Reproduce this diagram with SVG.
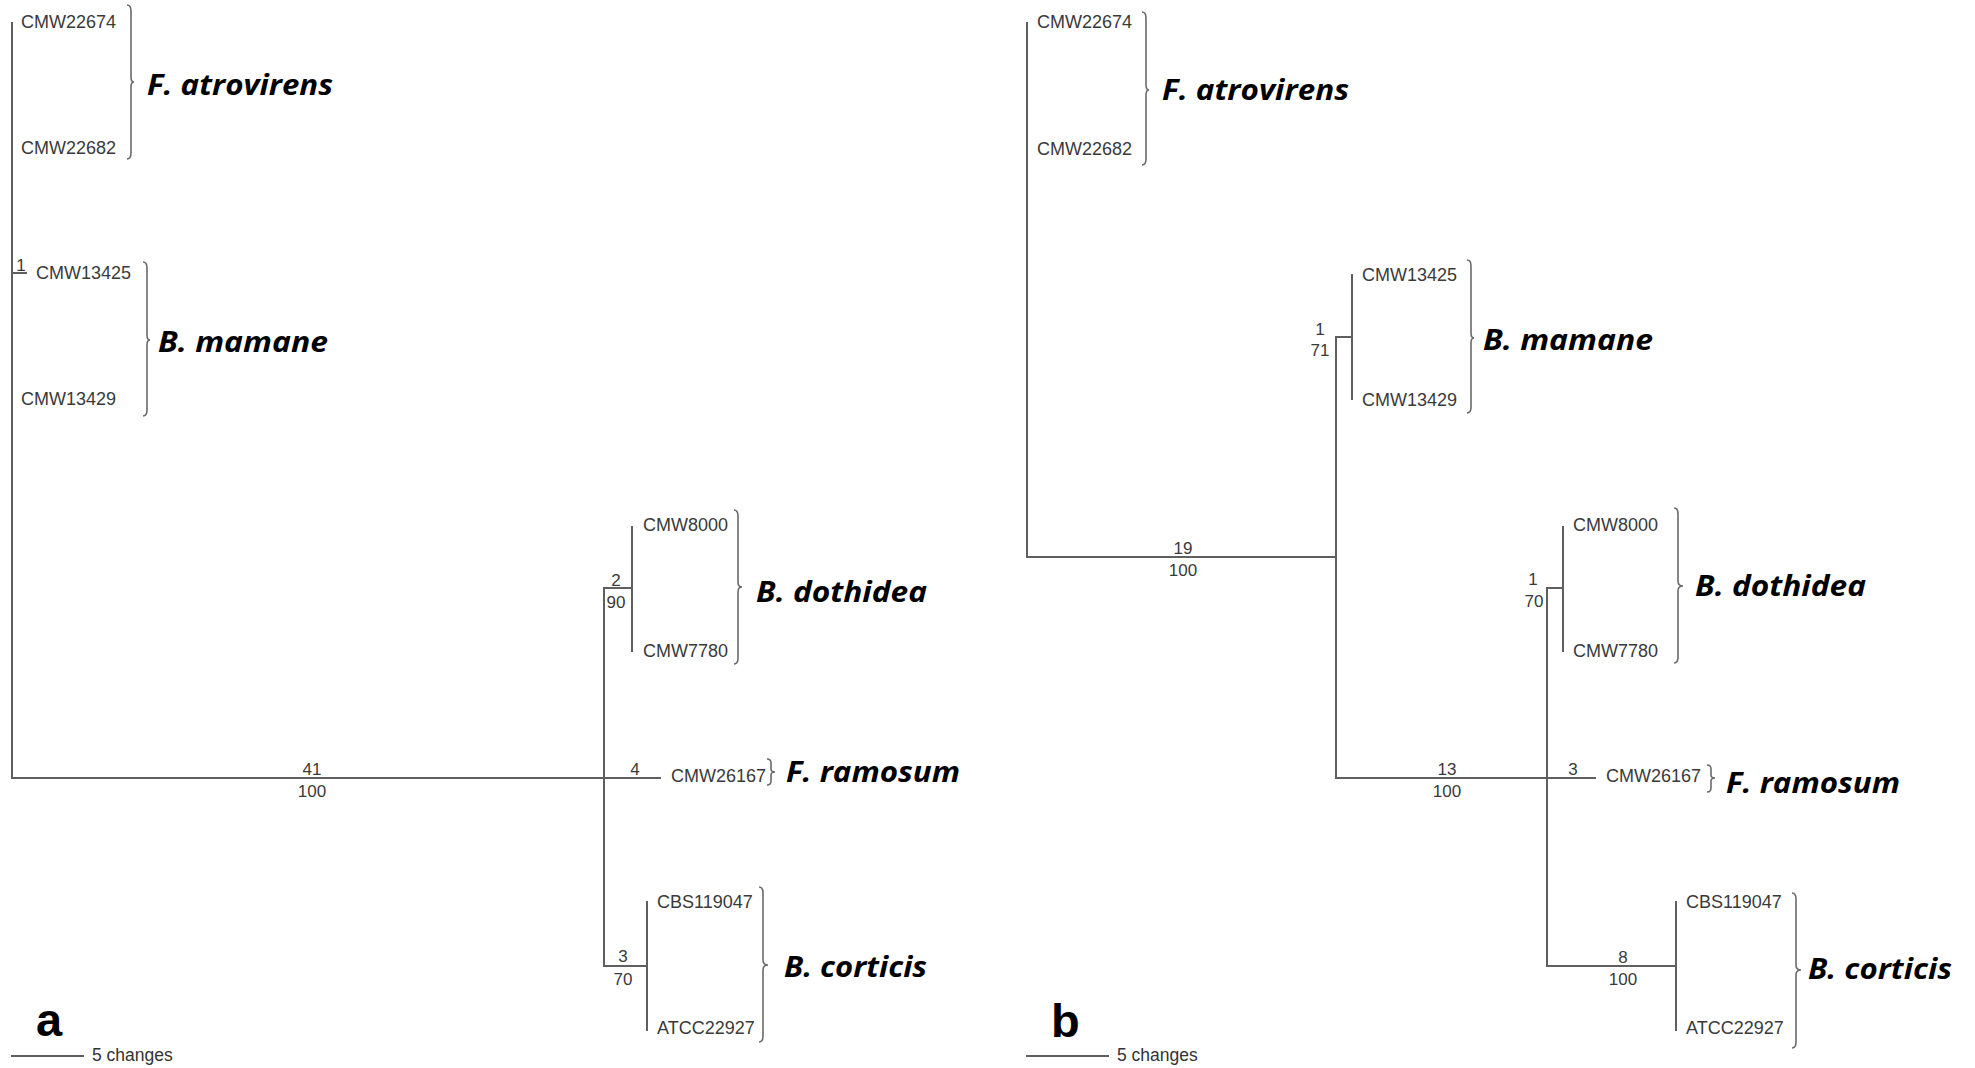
<svg xmlns="http://www.w3.org/2000/svg" width="1975" height="1068" viewBox="0 0 1975 1068">
<style>
.br{stroke:#5f5f5f;stroke-width:2;fill:none;stroke-linecap:square}
.bc{stroke:#6a6a6a;stroke-width:1.6;fill:none}
.tip{font-family:"Liberation Sans",Arial,sans-serif;font-size:18px;fill:#3a3a3a}
.num{font-family:"Liberation Sans",Arial,sans-serif;font-size:17px;fill:#3a3a3a;text-anchor:middle}
.sp{font-family:"Open Sans","Noto Sans",sans-serif;font-size:28px;font-weight:bold;font-style:italic;fill:#000}
.pl{font-family:"Liberation Sans",Arial,sans-serif;font-size:47px;font-weight:bold;fill:#000}
.sc{font-family:"Liberation Sans",Arial,sans-serif;font-size:17.5px;fill:#333}
</style>
<rect width="1975" height="1068" fill="#fff"/>
<g id="connectors">
<path class="br" d="M12 23V778H604M12 273H26M604 778H660M604 588V966M604 588H632M632 527V651M604 966H647M647 902V1030"/>
<path class="br" d="M1027 23V557H1336M1336 337V778M1336 337H1352M1352 275V399M1336 778H1595M1547 588V966M1547 588H1563M1563 527V651M1547 966H1676M1676 902V1030"/>
</g>
<g id="support-labels">
<text class="num" x="21" y="271" font-size="13">1</text>
<text class="num" x="312" y="775">41</text>
<text class="num" x="312" y="797">100</text>
<text class="num" x="616" y="586">2</text>
<text class="num" x="616" y="608">90</text>
<text class="num" x="635" y="775">4</text>
<text class="num" x="623" y="962">3</text>
<text class="num" x="623" y="985">70</text>
<text class="num" x="1183" y="554">19</text>
<text class="num" x="1183" y="576">100</text>
<text class="num" x="1320" y="335">1</text>
<text class="num" x="1320" y="356">71</text>
<text class="num" x="1447" y="775">13</text>
<text class="num" x="1447" y="797">100</text>
<text class="num" x="1533" y="585">1</text>
<text class="num" x="1534" y="607">70</text>
<text class="num" x="1573" y="775">3</text>
<text class="num" x="1623" y="963">8</text>
<text class="num" x="1623" y="985">100</text>
</g>
<g id="a-atrovirens">
<text class="tip" x="21" y="28">CMW22674</text>
<text class="tip" x="21" y="154">CMW22682</text>
<path class="bc" d="M127 5Q131 5 131 11L131 77Q131 82 134 82Q131 82 131 87L131 153Q131 159 127 159"/>
<text class="sp" x="147" y="95" textLength="186" lengthAdjust="spacingAndGlyphs">F. atrovirens</text>
</g>
<g id="a-mamane">
<text class="tip" x="36" y="279">CMW13425</text>
<text class="tip" x="21" y="405">CMW13429</text>
<path class="bc" d="M143 262Q147 262 147 268L147 335Q147 340 150 340Q147 340 147 345L147 410Q147 416 143 416"/>
<text class="sp" x="158" y="352" textLength="170" lengthAdjust="spacingAndGlyphs">B. mamane</text>
</g>
<g id="a-dothidea">
<text class="tip" x="643" y="531">CMW8000</text>
<text class="tip" x="643" y="657">CMW7780</text>
<path class="bc" d="M734 510Q738 510 738 516L738 582Q738 587 742 587Q738 587 738 592L738 658Q738 664 734 664"/>
<text class="sp" x="756" y="602" textLength="171" lengthAdjust="spacingAndGlyphs">B. dothidea</text>
</g>
<g id="a-ramosum">
<text class="tip" x="671" y="782">CMW26167</text>
<path class="bc" d="M767 759Q771 759 771 763L771 769Q771 772 775 772Q771 772 771 775L771 781Q771 785 767 785"/>
<text class="sp" x="786" y="782" textLength="174" lengthAdjust="spacingAndGlyphs">F. ramosum</text>
</g>
<g id="a-corticis">
<text class="tip" x="657" y="908">CBS119047</text>
<text class="tip" x="657" y="1034">ATCC22927</text>
<path class="bc" d="M759 887Q763 887 763 893L763 960Q763 965 768 965Q763 965 763 970L763 1036Q763 1042 759 1042"/>
<text class="sp" x="784" y="977" textLength="143" lengthAdjust="spacingAndGlyphs">B. corticis</text>
</g>
<g id="b-atrovirens">
<text class="tip" x="1037" y="28">CMW22674</text>
<text class="tip" x="1037" y="155">CMW22682</text>
<path class="bc" d="M1142 12Q1146 12 1146 18L1146 85Q1146 90 1149 90Q1146 90 1146 95L1146 159Q1146 165 1142 165"/>
<text class="sp" x="1162" y="100" textLength="187" lengthAdjust="spacingAndGlyphs">F. atrovirens</text>
</g>
<g id="b-mamane">
<text class="tip" x="1362" y="281">CMW13425</text>
<text class="tip" x="1362" y="406">CMW13429</text>
<path class="bc" d="M1467 260Q1471 260 1471 266L1471 333Q1471 338 1474 338Q1471 338 1471 343L1471 407Q1471 413 1467 413"/>
<text class="sp" x="1483" y="350" textLength="170" lengthAdjust="spacingAndGlyphs">B. mamane</text>
</g>
<g id="b-dothidea">
<text class="tip" x="1573" y="531">CMW8000</text>
<text class="tip" x="1573" y="657">CMW7780</text>
<path class="bc" d="M1674 508Q1678 508 1678 514L1678 581Q1678 586 1683 586Q1678 586 1678 591L1678 657Q1678 663 1674 663"/>
<text class="sp" x="1695" y="596" textLength="171" lengthAdjust="spacingAndGlyphs">B. dothidea</text>
</g>
<g id="b-ramosum">
<text class="tip" x="1606" y="782">CMW26167</text>
<path class="bc" d="M1707 765Q1711 765 1711 769L1711 775Q1711 778 1715 778Q1711 778 1711 781L1711 788Q1711 792 1707 792"/>
<text class="sp" x="1726" y="793" textLength="174" lengthAdjust="spacingAndGlyphs">F. ramosum</text>
</g>
<g id="b-corticis">
<text class="tip" x="1686" y="908">CBS119047</text>
<text class="tip" x="1686" y="1034">ATCC22927</text>
<path class="bc" d="M1792 893Q1796 893 1796 899L1796 965Q1796 970 1801 970Q1796 970 1796 975L1796 1042Q1796 1048 1792 1048"/>
<text class="sp" x="1808" y="979" textLength="144" lengthAdjust="spacingAndGlyphs">B. corticis</text>
</g>
<g id="panel-a">
<text class="pl" x="36" y="1036">a</text>
<line class="br" x1="12" y1="1056" x2="83" y2="1056" stroke-width="1.6"/>
<text class="sc" x="92" y="1061">5 changes</text>
</g>
<g id="panel-b">
<text class="pl" x="1051" y="1037">b</text>
<line class="br" x1="1027" y1="1056" x2="1108" y2="1056" stroke-width="1.6"/>
<text class="sc" x="1117" y="1061">5 changes</text>
</g>
</svg>
